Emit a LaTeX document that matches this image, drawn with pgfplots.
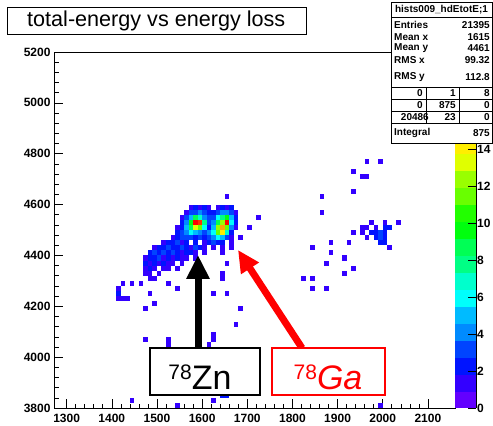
\documentclass[border=0pt]{standalone}
\usepackage{fontspec}
\setmainfont{Liberation Sans}
\usepackage{pgfplots}
\usepackage{pgfplotstable}
\pgfplotsset{compat=1.18}
\usetikzlibrary{arrows.meta}

% one histogram bin: 10 units in x, 20 units in y
\pgfdeclareplotmark{cell}{%
  \pgfpathrectangle{\pgfpoint{-2.258pt}{-2.543pt}}{\pgfpoint{4.516pt}{5.086pt}}%
  \pgfusepathqfill}

% 20-level "pretty" palette, violet -> red
\pgfplotsset{
  colormap={rootpretty}{
    rgb255=(99,0,255) rgb255=(51,0,255) rgb255=(0,20,255) rgb255=(0,68,255)
    rgb255=(0,139,255) rgb255=(0,187,255) rgb255=(0,255,252) rgb255=(0,255,204)
    rgb255=(0,255,133) rgb255=(0,255,85) rgb255=(0,255,14) rgb255=(34,255,0)
    rgb255=(105,255,0) rgb255=(153,255,0) rgb255=(224,255,0) rgb255=(255,238,0)
    rgb255=(255,167,0) rgb255=(255,119,0) rgb255=(255,48,0) rgb255=(255,0,0)
    rgb255=(255,0,0)
  }
}

% bin centres (dE, Etot) and bin contents
\pgfplotstableread{
x y c
1655 4630 1
1575 4590 1
1585 4590 2
1595 4590 1
1605 4590 2
1615 4590 1
1635 4590 1
1645 4590 2
1655 4590 1
1665 4590 2
1565 4570 1
1575 4570 3
1585 4570 3
1595 4570 4
1605 4570 3
1615 4570 2
1625 4570 2
1635 4570 3
1645 4570 4
1655 4570 4
1665 4570 3
1675 4570 1
1555 4550 1
1565 4550 3
1575 4550 5
1585 4550 9
1595 4550 7
1605 4550 4
1615 4550 3
1625 4550 3
1635 4550 6
1645 4550 8
1655 4550 10
1665 4550 5
1675 4550 2
1555 4530 2
1565 4530 4
1575 4530 10
1585 4530 19
1595 4530 17
1605 4530 8
1615 4530 3
1625 4530 4
1635 4530 9
1645 4530 12
1655 4530 18
1665 4530 6
1675 4530 2
1545 4510 1
1555 4510 2
1565 4510 5
1575 4510 9
1585 4510 13
1595 4510 11
1605 4510 6
1615 4510 2
1625 4510 5
1635 4510 12
1645 4510 15
1655 4510 11
1665 4510 4
1675 4510 1
1545 4490 2
1555 4490 3
1565 4490 4
1575 4490 6
1585 4490 5
1595 4490 4
1605 4490 3
1615 4490 4
1625 4490 6
1635 4490 11
1645 4490 14
1655 4490 7
1665 4490 2
1535 4470 1
1545 4470 2
1555 4470 3
1565 4470 3
1575 4470 3
1585 4470 2
1595 4470 3
1605 4470 2
1615 4470 3
1625 4470 4
1635 4470 6
1645 4470 5
1655 4470 3
1665 4470 1
1515 4450 1
1525 4450 2
1535 4450 2
1545 4450 3
1555 4450 1
1565 4450 2
1585 4450 2
1605 4450 1
1615 4450 2
1625 4450 3
1635 4450 2
1645 4450 2
1665 4450 1
1495 4430 1
1505 4430 2
1515 4430 2
1525 4430 3
1535 4430 2
1545 4430 2
1555 4430 3
1565 4430 2
1575 4430 1
1585 4430 3
1595 4430 2
1605 4430 1
1625 4430 1
1645 4430 1
1665 4430 1
1485 4410 2
1495 4410 3
1505 4410 2
1515 4410 3
1525 4410 2
1535 4410 3
1545 4410 2
1555 4410 1
1565 4410 2
1575 4410 2
1585 4410 1
1605 4410 1
1645 4410 1
1475 4390 1
1485 4390 2
1495 4390 2
1505 4390 3
1515 4390 1
1525 4390 2
1535 4390 1
1545 4390 2
1555 4390 1
1565 4390 1
1585 4390 1
1475 4370 2
1485 4370 1
1495 4370 2
1505 4370 1
1515 4370 2
1525 4370 1
1535 4370 1
1555 4370 1
1655 4370 1
1475 4350 1
1485 4350 2
1495 4350 1
1515 4350 1
1525 4350 1
1545 4350 1
1475 4330 1
1485 4330 1
1505 4330 1
1645 4330 1
1485 4310 1
1495 4310 1
1645 4310 1
1685 4470 1
1705 4510 1
1725 4550 1
1425 4290 1
1445 4290 1
1465 4290 1
1525 4290 1
1415 4270 1
1545 4270 1
1415 4250 2
1485 4250 1
1625 4250 1
1655 4250 1
1415 4230 1
1425 4230 1
1435 4230 1
1495 4210 1
1475 4190 1
1685 4190 1
1675 4130 1
1625 4090 1
1625 4070 1
1475 4070 1
1525 4070 1
1525 4050 1
1615 4050 1
1645 3850 2
1655 3850 2
1445 3830 1
1625 3830 1
1545 3810 1
1995 3810 1
1965 4770 1
1995 4770 1
1935 4730 1
1955 4710 1
1965 4710 1
1935 4650 1
1865 4630 1
1865 4570 1
1975 4530 1
2005 4530 1
2035 4530 1
1955 4510 1
1965 4510 1
1985 4510 1
2005 4510 2
2015 4510 2
1935 4490 1
1955 4490 1
1975 4490 2
1985 4490 2
1995 4490 3
2005 4490 2
1965 4470 1
1985 4470 2
1995 4470 3
2005 4470 2
1995 4450 2
2005 4450 2
1885 4450 1
1925 4450 1
1845 4430 1
2015 4430 1
1885 4410 1
1915 4390 1
1875 4370 1
1935 4350 1
1915 4330 1
1825 4310 1
1845 4310 1
1845 4270 1
1875 4270 1
}\cells

\begin{document}
\begin{tikzpicture}
\path[use as bounding box] (0,0) rectangle (493pt,426pt);

\begin{axis}[
  at={(54pt,18pt)}, anchor=south west,
  scale only axis, width=401pt, height=356pt,
  xmin=1272, xmax=2160, ymin=3800, ymax=5200,
  xtick={1300,1400,...,2100}, ytick={3800,4000,...,5200},
  minor x tick num=4, minor y tick num=4,
  tick pos=left, tick align=inside,
  major tick length=9pt, minor tick length=4.5pt,
  every tick/.style={black, line width=0.6pt},
  axis line style={line width=0.8pt},
  ticklabel style={font=\bfseries\fontsize{12}{12}\selectfont},
  xticklabel style={yshift=-3pt},
  /pgf/number format/assume math mode=true,
  /pgf/number format/1000 sep={},
  scaled ticks=false,
  colormap name=rootpretty,
  colormap access=piecewise constant,
  point meta min=0, point meta max=19.25,
  colorbar,
  colorbar shift/.style={xshift=0pt},
  colorbar style={
    at={(parent axis.north east)}, anchor=north west,
    scale only axis, width=21pt, height=356pt,
    ytick={0,2,4,6,8,10,12,14},
    axis x line=none, axis y line*=right,
    tick align=inside, major tick length=8pt,
    every tick/.style={black, line width=0.6pt},
    yticklabel style={font=\bfseries\fontsize{12}{12}\selectfont, inner sep=1pt},
    /pgf/number format/assume math mode=true,
  },
]
\addplot[scatter, only marks, mark=cell, point meta=explicit]
  table[x=x, y=y, meta=c] {\cells};
\end{axis}

% title
\draw[fill=white, line width=0.7pt] (7pt,392pt) rectangle (306pt,419pt);
\node[anchor=west, inner sep=0pt, font=\fontsize{21.6}{21.6}\selectfont] at (27pt,405.5pt) {total-energy vs energy loss};

% statistics box
\begin{scope}[font=\bfseries\fontsize{10}{10}\selectfont, inner sep=0pt]
\draw[fill=white, line width=0.6pt] (391pt,283pt) rectangle (492pt,424pt);
\draw[line width=0.6pt] (391pt,409pt) -- (492pt,409pt);
\node at (441.5pt,416.5pt) {hists009\_hdEtotE;1};
\node[anchor=west] at (394pt,401pt) {Entries};
\node[anchor=east] at (490pt,401pt) {21395};
\node[anchor=west] at (394pt,389pt) {Mean x};
\node[anchor=east] at (490pt,389pt) {1615};
\node[anchor=west] at (394pt,378pt) {Mean y};
\node[anchor=east] at (490pt,378pt) {4461};
\node[anchor=west] at (394pt,366pt) {RMS x};
\node[anchor=east] at (490pt,366pt) {99.32};
\node[anchor=west] at (394pt,349pt) {RMS y};
\node[anchor=east] at (490pt,349pt) {112.8};
\draw[line width=0.6pt] (391pt,339pt) -- (492pt,339pt);
\draw[line width=0.6pt] (391pt,326.5pt) -- (492pt,326.5pt);
\draw[line width=0.6pt] (391pt,314.5pt) -- (492pt,314.5pt);
\draw[line width=0.6pt] (391pt,303pt) -- (492pt,303pt);
\draw[line width=0.6pt] (426pt,339pt) -- (426pt,303pt);
\draw[line width=0.6pt] (459pt,339pt) -- (459pt,303pt);
\node[anchor=east] at (423pt,333pt) {0};
\node[anchor=east] at (456pt,333pt) {1};
\node[anchor=east] at (490pt,333pt) {8};
\node[anchor=east] at (423pt,320.5pt) {0};
\node[anchor=east] at (456pt,320.5pt) {875};
\node[anchor=east] at (490pt,320.5pt) {0};
\node[anchor=east] at (429pt,308.5pt) {20486};
\node[anchor=east] at (456pt,308.5pt) {23};
\node[anchor=east] at (490pt,308.5pt) {0};
\node[anchor=west] at (394pt,293pt) {Integral};
\node[anchor=east] at (490pt,293pt) {875};
\end{scope}

% isotope labels and arrows
\draw[line width=7pt, -{Triangle[width=22pt,length=24pt]}] (198pt,78pt) -- (198pt,171pt);
\draw[red, line width=7pt, -{Triangle[width=20pt,length=22pt]}] (302pt,78pt) -- (238pt,176pt);
\draw[fill=white, line width=1.5pt] (150pt,31pt) rectangle (260pt,78pt);
\node[anchor=base, inner sep=0pt] at (200pt,36pt)
  {\raisebox{11pt}{\fontsize{21}{21}\selectfont 78}\fontsize{34}{34}\selectfont Zn};
\draw[red, fill=white, line width=1.5pt] (272pt,31pt) rectangle (385pt,78pt);
\node[anchor=base, inner sep=0pt, text=red] at (328pt,36pt)
  {\raisebox{11pt}{\fontsize{21}{21}\selectfont 78}\fontsize{34}{34}\selectfont\itshape Ga};
\end{tikzpicture}
\end{document}
